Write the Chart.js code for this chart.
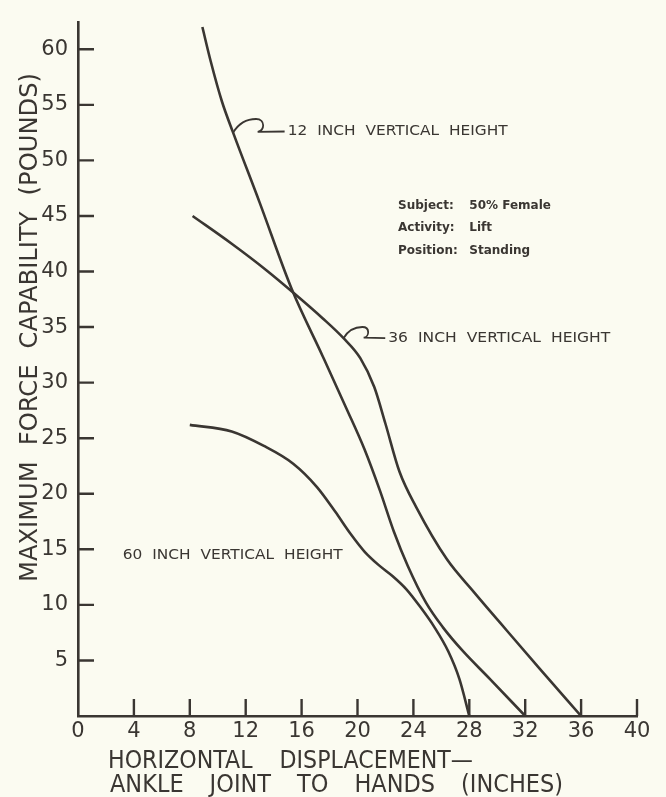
<!DOCTYPE html>
<html>
<head>
<meta charset="utf-8">
<title>Maximum force capability - lift, standing</title>
<script src="https://cdn.jsdelivr.net/npm/chart.js@4.4.1/dist/chart.umd.min.js"></script>
<style>
  html, body { margin: 0; padding: 0; background: #fbfbf1; }
  canvas { display: block; }
</style>
</head>
<body>
<canvas id="forceChart" width="666" height="797"></canvas>
<script>
// values (inches vs pounds)
const x12 = [8.9, 9.5, 10.3, 11.1, 13.0, 15.3, 17.5, 19.2, 20.5, 21.6, 22.6, 23.6, 24.9, 26.1, 27.5, 29.5, 32];
const y12 = [62, 58.9, 55.3, 52.5, 46.2, 38.4, 32.4, 27.7, 24.0, 20.3, 16.6, 13.5, 10.2, 8.0, 5.9, 3.3, 0];
const x36 = [8.2, 11.0, 13.5, 15.5, 17.5, 19.0, 20.2, 21.2, 22.0, 23.0, 24.2, 26.4, 28.3, 30.2, 33.0, 36];
const y36 = [45.0, 42.5, 40.1, 38.0, 35.8, 34.0, 32.2, 29.6, 26.3, 22.0, 18.8, 14.1, 11.2, 8.4, 4.3, 0];
const x60 = [8, 11, 13.3, 15.4, 17.1, 18.4, 19.5, 20.5, 21.5, 22.5, 23.5, 24.5, 25.5, 26.5, 27.3, 28];
const y60 = [26.2, 25.6, 24.3, 22.7, 20.6, 18.4, 16.4, 14.8, 13.6, 12.6, 11.4, 9.8, 8.0, 5.8, 3.3, 0];

const seriesNames = ["12 INCH VERTICAL HEIGHT", "36 INCH VERTICAL HEIGHT", "60 INCH VERTICAL HEIGHT"];
const infoKeys = ["Subject:", "Activity:", "Position:"];
const infoVals = ["50% Female", "Lift", "Standing"];
const yTitleWords = ["MAXIMUM", "FORCE", "CAPABILITY", "(POUNDS)"];
const xTitleLines = [["HORIZONTAL", "DISPLACEMENT—"], ["ANKLE", "JOINT", "TO", "HANDS", "(INCHES)"]];

// where the curve labels sit (data units), and where their hooks touch the curve
const labelAt = [{ x: 15.0, y: 52.6 }, { x: 22.2, y: 34.0 }, { x: 3.2, y: 14.45 }];
const hookAt = [{ x: 11.1, y: 52.5 }, { x: 19.0, y: 34.0 }, null];
const infoKeyX = 22.9, infoValX = 28.0, infoY = [45.9, 43.9, 41.9];

const ink = "#3a3632";
const tickFont = { family: "DejaVu Sans", size: 21 };

// draw words spread over a given width, squeezing the glyphs to fit
function drawWords(ctx, words, x, y, width, gap) {
  const widths = words.map(w => ctx.measureText(w).width);
  const sum = widths.reduce((a, b) => a + b, 0);
  const s = (width - gap * (words.length - 1)) / sum;
  let cx = x;
  words.forEach((w, i) => {
    ctx.save();
    ctx.translate(cx, y);
    ctx.scale(s, 1);
    ctx.fillText(w, 0, 0);
    ctx.restore();
    cx += widths[i] * s + gap;
  });
}

function drawHook(ctx, p, t) {
  const d = t.x - p.x, h = d * 0.25;
  ctx.beginPath();
  ctx.moveTo(p.x, p.y);
  ctx.quadraticCurveTo(p.x + d * 0.15, p.y - h, p.x + d * 0.42, p.y - h);
  ctx.bezierCurveTo(p.x + d * 0.6, p.y - h, p.x + d * 0.58, p.y - h * 0.1, p.x + d * 0.45, p.y - h * 0.05);
  ctx.lineTo(t.x - 3, t.y);
  ctx.stroke();
}

const decor = {
  id: "decor",
  afterDraw(chart) {
    const ctx = chart.ctx;
    const xs = chart.scales.x, ys = chart.scales.y;
    const area = chart.chartArea;
    ctx.save();
    ctx.strokeStyle = ink;
    ctx.fillStyle = ink;
    ctx.lineWidth = 2.4;

    // inward tick marks
    ctx.beginPath();
    xs.ticks.forEach(t => {
      if (t.value === 0) return;
      const px = xs.getPixelForValue(t.value);
      ctx.moveTo(px, area.bottom);
      ctx.lineTo(px, area.bottom - 17);
    });
    ys.ticks.forEach(t => {
      if (t.value === 0) return;
      const py = ys.getPixelForValue(t.value);
      ctx.moveTo(area.left, py);
      ctx.lineTo(area.left + 16, py);
    });
    ctx.stroke();

    // curve labels
    ctx.lineWidth = 1.8;
    ctx.font = '14px "DejaVu Sans"';
    ctx.textBaseline = "middle";
    ctx.textAlign = "left";
    const labelWidths = [220, 222, 220];
    seriesNames.forEach((name, i) => {
      const t = { x: xs.getPixelForValue(labelAt[i].x), y: ys.getPixelForValue(labelAt[i].y) };
      if (hookAt[i]) {
        const p = { x: xs.getPixelForValue(hookAt[i].x), y: ys.getPixelForValue(hookAt[i].y) };
        drawHook(ctx, p, t);
      }
      drawWords(ctx, name.split(" "), t.x, t.y, labelWidths[i], 10);
    });

    // subject / activity / position block
    ctx.font = 'bold 12px "DejaVu Sans"';
    infoKeys.forEach((k, i) => {
      const py = ys.getPixelForValue(infoY[i]);
      ctx.fillText(k, xs.getPixelForValue(infoKeyX), py);
      ctx.fillText(infoVals[i], xs.getPixelForValue(infoValX), py);
    });

    // axis titles
    ctx.font = '25px "DejaVu Sans"';
    ctx.textBaseline = "alphabetic";
    ctx.save();
    ctx.translate(36.5, 582);
    ctx.rotate(-Math.PI / 2);
    drawWords(ctx, yTitleWords, 0, 0, 509, 16);
    ctx.restore();
    drawWords(ctx, xTitleLines[0], 108, 768, 365, 27);
    drawWords(ctx, xTitleLines[1], 110, 792, 453, 26);

    ctx.restore();
  }
};

const lineStyle = {
  showLine: true,
  borderColor: ink,
  borderWidth: 2.6,
  pointRadius: 0,
  cubicInterpolationMode: "monotone",
  fill: false
};

function pairs(xv, yv) {
  return xv.map((x, i) => ({ x: x, y: yv[i] }));
}

new Chart(document.getElementById("forceChart"), {
  type: "scatter",
  data: {
    datasets: [
      Object.assign({ label: seriesNames[0], data: pairs(x12, y12) }, lineStyle),
      Object.assign({ label: seriesNames[1], data: pairs(x36, y36) }, lineStyle),
      Object.assign({ label: seriesNames[2], data: pairs(x60, y60) }, lineStyle)
    ]
  },
  options: {
    responsive: false,
    animation: false,
    layout: { padding: { top: 12, right: 29, left: 0, bottom: 0 } },
    plugins: {
      legend: { display: false },
      tooltip: { enabled: false }
    },
    scales: {
      x: {
        type: "linear",
        min: 0,
        max: 40,
        afterFit: s => { s.height = 81; },
        ticks: { stepSize: 4, font: tickFont, color: ink, padding: 3, maxRotation: 0, autoSkip: false },
        grid: { display: false, drawTicks: false },
        border: { color: ink, width: 2.6 }
      },
      y: {
        min: 0,
        max: 62.4,
        afterFit: s => { s.width = 78; },
        ticks: {
          stepSize: 5,
          includeBounds: false,
          font: tickFont,
          color: ink,
          padding: 10,
          callback: v => (v === 0 ? "" : v)
        },
        grid: { display: false, drawTicks: false },
        border: { color: ink, width: 2.6 }
      }
    }
  },
  plugins: [decor]
});
</script>
</body>
</html>
